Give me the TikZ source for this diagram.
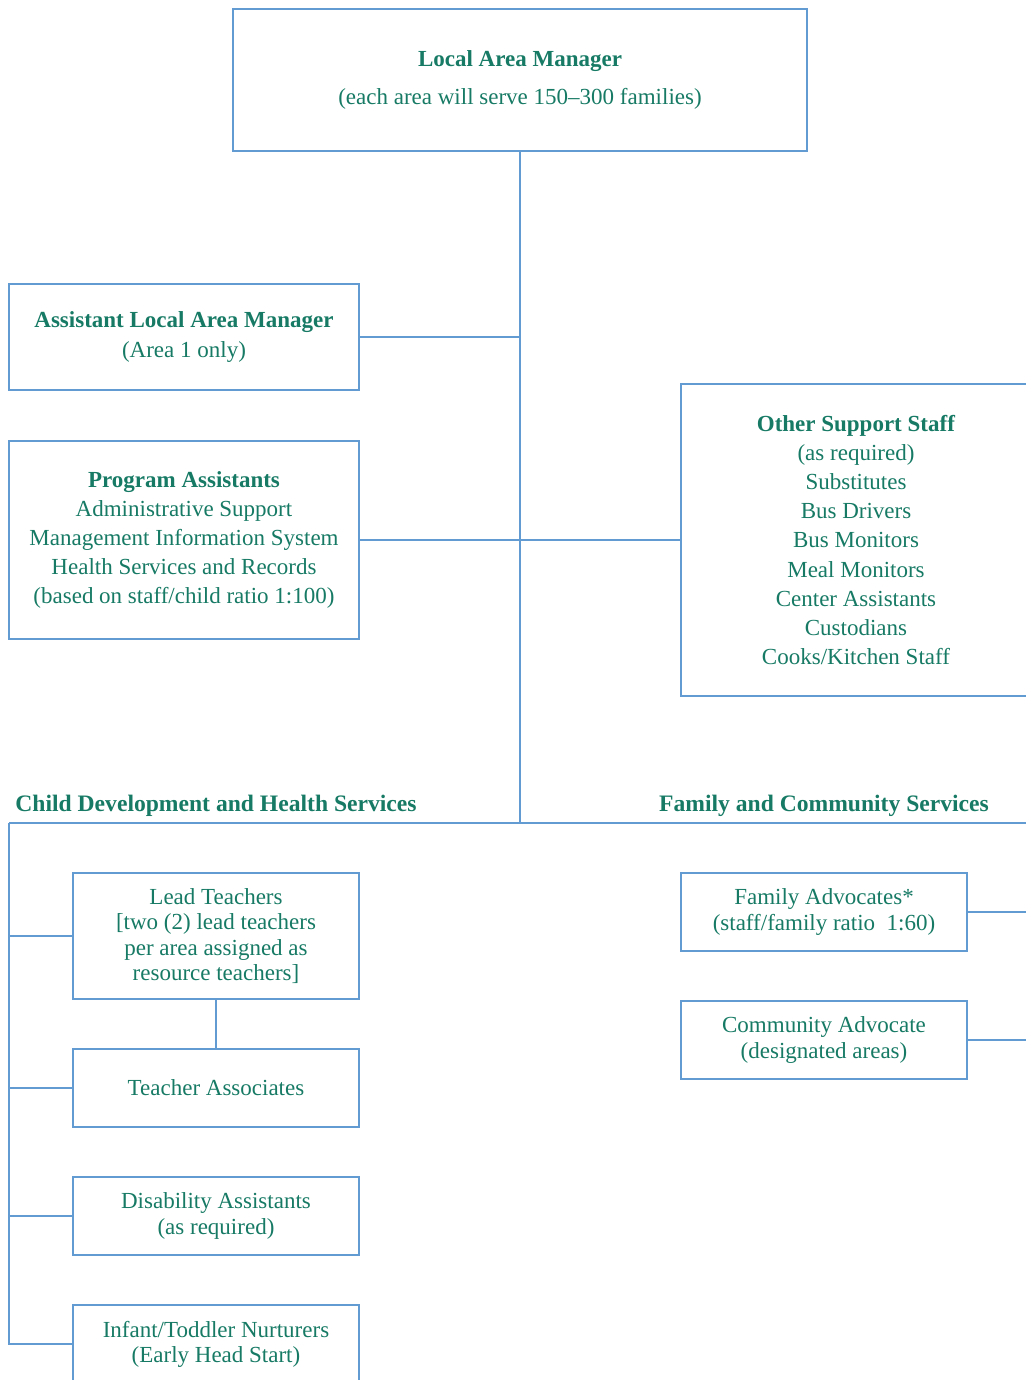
\documentclass[tikz,border=0pt]{standalone}
\usepackage{fontspec}
\setmainfont{Liberation Serif}
\usepackage{tikz}
\usetikzlibrary{positioning}
\usepackage{xcolor}
\definecolor{orgblue}{RGB}{98,154,210}
\definecolor{orggreen}{RGB}{22,122,100}
\tikzstyle{conn} = [line width=0.75pt, color=orgblue]
\tikzstyle{staffbox} = [rectangle, draw=orgblue, line width=0.75pt, text=orggreen, align=center, inner sep=0pt, font=\fontsize{11.5}{14.6}\selectfont]
\tikzstyle{tightbox} = [staffbox, font=\fontsize{11.5}{12.6}\selectfont]
\tikzstyle{heading} = [text=orggreen, font=\fontsize{11.8}{14}\selectfont\bfseries]

\begin{document}
\begin{tikzpicture}[x=0.5pt, y=-0.5pt]
\useasboundingbox (0,0) rectangle (1026,1380);
\clip (0,0) rectangle (1026,1380);
% Top of the chart
\node (lam) [staffbox, minimum width=287pt, minimum height=71pt] at (520,80)
  {\textbf{Local Area Manager}\\[4pt](each area will serve 150--300 families)};
\node (alam) [staffbox, minimum width=175pt, minimum height=53pt] at (184,337)
  {\textbf{Assistant Local Area Manager}\\(Area 1 only)};
\node (pa) [staffbox, minimum width=175pt, minimum height=99pt] at (184,540)
  {\textbf{Program Assistants}\\Administrative Support\\Management Information System\\Health Services and Records\\(based on staff/child ratio 1:100)};
\node (oss) [staffbox, minimum width=175pt, minimum height=156pt] at (856,540)
  {\textbf{Other Support Staff}\\(as required)\\Substitutes\\Bus Drivers\\Bus Monitors\\Meal Monitors\\Center Assistants\\Custodians\\Cooks/Kitchen Staff};

% Section headings
\node (cdhs) [heading] at (216,806) {Child Development and Health Services};
\node (fcs) [heading] at (824,806) {Family and Community Services};

% Child development side
\node (lt) [tightbox, minimum width=143pt, minimum height=63pt] at (216,936)
  {Lead Teachers\\{}[two (2) lead teachers\\per area assigned as\\resource teachers]};
\node (ta) [tightbox, minimum width=143pt, minimum height=39pt] at (216,1088) {Teacher Associates};
\node (da) [tightbox, minimum width=143pt, minimum height=39pt] at (216,1216)
  {Disability Assistants\\(as required)};
\node (itn) [tightbox, minimum width=143pt, minimum height=39pt] at (216,1344)
  {Infant/Toddler Nurturers\\(Early Head Start)};

% Family side
\node (fa) [tightbox, minimum width=143pt, minimum height=39pt] at (824,912)
  {Family Advocates*\\(staff/family ratio~~1:60)};
\node (ca) [tightbox, minimum width=143pt, minimum height=39pt] at (824,1040)
  {Community Advocate\\(designated areas)};

% Connectors
\coordinate (hub) at (520,823);
\coordinate (lbar) at (9,823);
\coordinate (rbar) at (1040,823);
\draw[conn] (lam.south) -- (hub);
\draw[conn] (alam.east) -- (alam.east -| hub);
\draw[conn] (pa.east) -- (oss.west);
\draw[conn] (lbar) -- (rbar);
\draw[conn] (lbar) |- (lt.west);
\draw[conn] (lbar) |- (ta.west);
\draw[conn] (lbar) |- (da.west);
\draw[conn] (lbar) |- (itn.west);
\draw[conn] (lt) -- (ta);
\draw[conn] (fa.east) -- (fa.east -| rbar);
\draw[conn] (ca.east) -- (ca.east -| rbar);
\end{tikzpicture}
\end{document}
